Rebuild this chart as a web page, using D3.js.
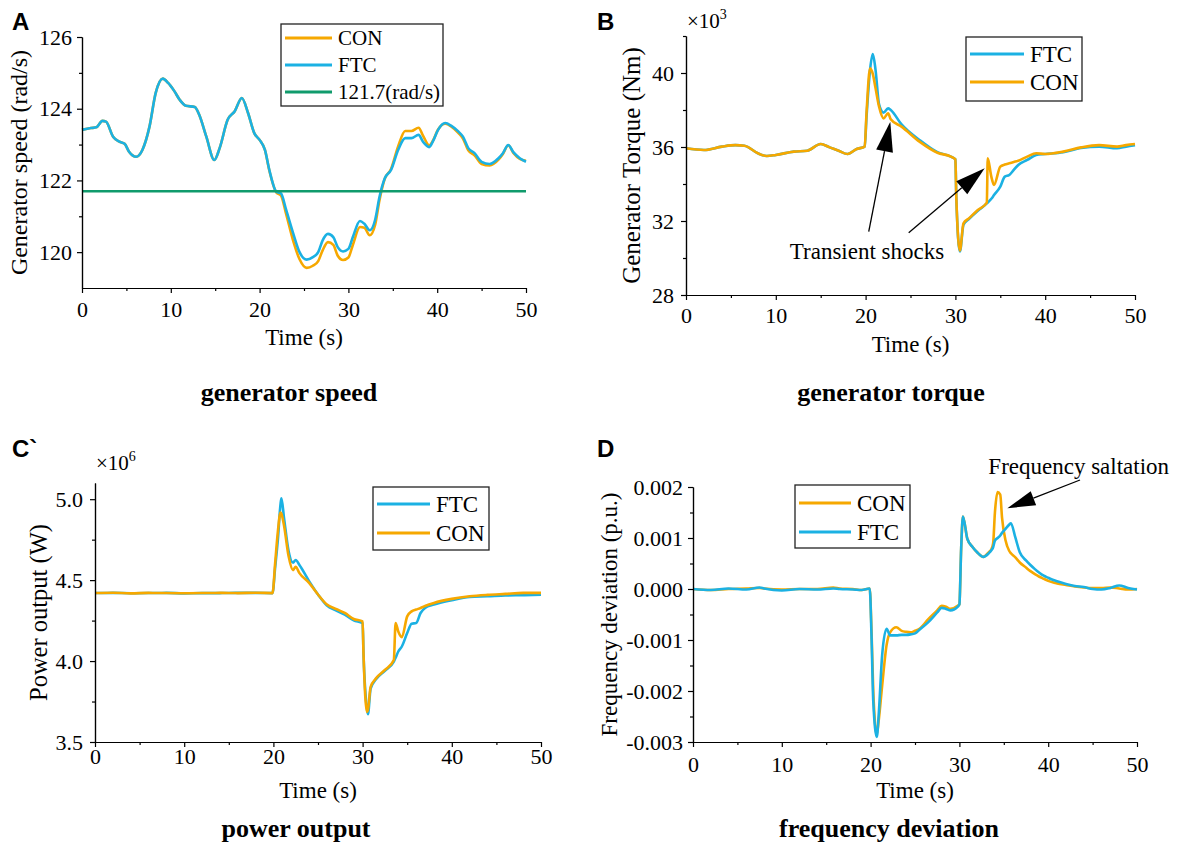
<!DOCTYPE html>
<html>
<head>
<meta charset="utf-8">
<script src="https://cdn.jsdelivr.net/npm/d3@7"></script>
<style>
  body { margin: 0; background: #fff; }
  .axis path, .axis line { stroke: #000; stroke-width: 1.2px; }
</style>
</head>
<body>
<div class="svg-container"></div>
<script>
//Data
const timeMajor = [0, 10, 20, 30, 40, 50];
const timeMinor = [5, 15, 25, 35, 45];

//A - generator speed (rad/s)
const timeSpeed = [0,1,1.6,2.3,2.7,3.5,4.2,4.8,5.3,6.1, 6.8,7.6,8.3,9.1,9.7,10.4,11,11.7,12.7,13.2,
  14,14.9,15.5,16.4,17.2,18,18.7,19.4,20,20.6, 21.1,21.9,22.4,23,23.8,24.5,25.3,26,26.6,27.1,
  27.7,28.3,28.8,29.4,30,30.5,31.3,31.8,32.4,33, 33.5,34.1,34.8,35.6,36.4,37.1,37.9,38.4,39.1,39.5,
  40.1,40.9,41.6,42.4,42.9,43.5,44.2,45,45.9,46.9, 47.4,48,48.6,49.3,50];
const speedCON = [123.41,123.46,123.48,123.66,123.64,123.22,123.08,123.02,122.80,122.66,
  122.85,123.50,124.44,124.84,124.72,124.49,124.25,124.08,124.05,123.83,
  123.22,122.57,122.90,123.69,123.93,124.30,123.88,123.32,123.13,122.85,
  122.27,121.66,121.58,121.05,120.30,119.80,119.56,119.62,119.75,120.05,
  120.28,120.20,119.90,119.78,119.85,120.20,120.70,120.68,120.47,120.75,
  121.45,122.05,122.32,122.95,123.38,123.38,123.47,123.25,122.98,123.10,
  123.42,123.58,123.50,123.32,123.17,122.84,122.70,122.46,122.42,122.58,
  122.74,122.98,122.76,122.60,122.55];
const speedFTC = [123.41,123.46,123.48,123.66,123.64,123.22,123.08,123.02,122.80,122.66,
  122.85,123.50,124.44,124.84,124.72,124.49,124.25,124.08,124.05,123.83,
  123.22,122.57,122.90,123.69,123.93,124.30,123.88,123.32,123.13,122.85,
  122.29,121.68,121.64,121.17,120.51,120.00,119.79,119.86,120.00,120.33,
  120.51,120.42,120.14,120.02,120.09,120.42,120.87,120.79,120.61,120.89,
  121.54,122.06,122.29,122.85,123.18,123.18,123.27,123.08,122.93,123.08,
  123.41,123.60,123.52,123.36,123.22,122.90,122.76,122.52,122.46,122.62,
  122.76,122.99,122.78,122.62,122.52];
const speedRef = 121.7;

//B - generator torque (x10^3 Nm)
const timeTorque = [0,2,4,5.5,6.5,8,9,10,12,13.5, 15,16,17,18,19,19.9,20.1,20.5,20.8,21.1,
  21.5,22,22.5,22.8,24,26,28,29.5,30,30.1, 30.5,30.9,31.5,32.5,33.5,33.6,34,34.3,35,35.5,
  36,36.5,37,38,39,40,42,44,46,48, 49,50];
const torqueCON = [35.93,35.84,36.02,36.10,36.07,35.66,35.51,35.57,35.75,35.80,
  36.16,35.98,35.80,35.62,35.89,36.02,37.82,40.25,39.95,39.20,
  38.18,37.55,37.82,37.50,37.10,36.29,35.69,35.48,35.33,33.30,
  30.40,31.87,32.14,32.60,32.99,35.39,34.40,33.95,34.94,35.05,
  35.12,35.19,35.26,35.48,35.66,35.62,35.75,35.98,36.10,36.02,
  36.10,36.16];
const torqueFTC = [35.93,35.84,36.02,36.10,36.07,35.66,35.51,35.57,35.75,35.80,
  36.16,35.98,35.80,35.62,35.89,36.02,37.60,40.20,41.03,40.20,
  38.30,37.86,38.09,38.00,37.22,36.38,35.72,35.48,35.33,33.30,
  30.35,31.80,32.10,32.55,32.95,33.00,33.20,33.40,33.86,34.40,
  34.49,34.76,35.03,35.30,35.57,35.62,35.72,35.95,36.02,35.93,
  36.02,36.10];

//C - power output (x10^6 W)
const timePower = [0,2,4,6,8,10,12,14,16,18, 19.9,20.2,20.5,20.8,20.9,21.2,21.7,22.2,22.5,22.9,
  24,25,26,27,28,29,30,30.1,30.5,30.6, 30.9,31.5,32.5,33.5,33.7,34,34.4,35,35.5,36,
  36.5,37,38,40,42,44,46,48,50];
const powerCON = [4.420,4.422,4.418,4.421,4.420,4.419,4.420,4.421,4.420,4.422,
  4.420,4.608,4.800,4.918,4.910,4.835,4.649,4.562,4.583,4.545,
  4.483,4.411,4.349,4.322,4.297,4.260,4.245,4.049,3.686,3.700,
  3.840,3.893,3.945,4.007,4.235,4.183,4.148,4.276,4.307,4.318,
  4.328,4.340,4.359,4.384,4.400,4.409,4.415,4.421,4.421];
const powerFTC = [4.420,4.421,4.419,4.420,4.421,4.418,4.420,4.420,4.421,4.421,
  4.420,4.580,4.750,4.970,5.005,4.880,4.680,4.608,4.624,4.595,
  4.494,4.411,4.343,4.314,4.287,4.252,4.235,4.049,3.700,3.672,
  3.830,3.887,3.940,3.997,4.020,4.059,4.090,4.173,4.231,4.235,
  4.297,4.328,4.349,4.376,4.396,4.400,4.405,4.407,4.410];

//D - frequency deviation (p.u.)
const timeFreq = [0,2,4,6,7.5,8,10,12,14,15.8, 16.5,18,19,19.9,20.1,20.3,20.7,20.9,21.3,21.8,
  22.2,22.9,23.5,24,24.5,25,25.5,26.5,27.5,28, 28.5,29,29.8,30,30.2,30.4,30.9,31.5,32,32.7,
  33.3,33.6,33.8,34,34.3,34.6,34.8,35.2,35.6,35.8, 36.3,36.8,37.5,38,38.5,39,39.5,40,40.5,41,
  42,43,44,45,46,47,48,49,50];
const freqCON = [0,-0.00002,0,0.00001,0.00002,0.00001,-0.00001,0,0,0.00003,
  0.00001,0,-0.00002,0.00001,-0.0008,-0.0020,-0.00285,-0.0026,-0.0019,-0.0011,
  -0.00085,-0.00075,-0.00082,-0.00084,-0.00085,-0.00082,-0.00078,-0.00059,-0.00042,-0.00033,
  -0.00035,-0.00039,-0.00033,-0.0003,0.0008,0.00142,0.00098,0.00082,0.00072,0.00063,
  0.00072,0.00078,0.0009,0.0015,0.0019,0.00185,0.0014,0.00095,0.00075,0.0007,
  0.00062,0.00052,0.00042,0.00035,0.00029,0.00024,0.0002,0.00016,0.00013,0.00011,
  0.00008,0.00005,0.00003,0.00002,0.00002,0.00003,0.00001,-0.00001,0];
const freqFTC = [0,-0.00002,0.00001,-0.00001,0.00003,0.00001,-0.00003,0,-0.00001,0.00001,
  0,-0.00001,-0.00002,0.00001,-0.0009,-0.0022,-0.0029,-0.0025,-0.0013,-0.00078,
  -0.00091,-0.00091,-0.0009,-0.0009,-0.00089,-0.00087,-0.0008,-0.00065,-0.00046,-0.00037,
  -0.00039,-0.00042,-0.00035,-0.0003,0.0008,0.00142,0.00098,0.00082,0.00072,0.00063,
  0.0007,0.00076,0.00082,0.00095,0.001,0.00105,0.0011,0.00118,0.00126,0.00129,
  0.00101,0.00072,0.00056,0.00047,0.00039,0.00032,0.00026,0.00022,0.00018,0.00015,
  0.0001,0.00006,0.00004,0,-0.00001,0.00002,0.00007,0.00002,-0.00001];

//colors + fonts
const ORANGE = '#f6a800';
const BLUE = '#1bb1e3';
const GREEN = '#109b6c';
const SERIF = '"Liberation Serif", "Times New Roman", serif';
const SANS = '"Liberation Sans", Arial, sans-serif';

//svg canvas
const svg = d3.select('.svg-container')
  .append('svg')
  .attr('width', 1180)
  .attr('height', 845);

//small helper for serif text
function addText(g, x, y, size, str) {
  return g.append('text')
    .attr('x', x).attr('y', y)
    .style('font-family', SERIF)
    .style('font-size', size + 'px')
    .attr('fill', '#000')
    .text(str);
}

//arrow with filled triangular head
function drawArrow(g, x1, y1, x2, y2, headLen, headW) {
  const dx = x2 - x1, dy = y2 - y1;
  const len = Math.sqrt(dx * dx + dy * dy);
  const ux = dx / len, uy = dy / len;
  const bx = x2 - ux * headLen, by = y2 - uy * headLen;
  g.append('line')
    .attr('x1', x1).attr('y1', y1).attr('x2', bx).attr('y2', by)
    .attr('stroke', '#000').attr('stroke-width', 1.3);
  g.append('polygon')
    .attr('points', [[x2, y2], [bx - uy * headW / 2, by + ux * headW / 2], [bx + uy * headW / 2, by - ux * headW / 2]].map(p => p.join(',')).join(' '))
    .attr('fill', '#000');
}

//one panel
function drawPanel(p) {
  const x = d3.scaleLinear().domain([0, 50]).range([p.x0, p.x1]);
  const y = d3.scaleLinear().domain(p.yDomain).range([p.yBot, p.yTop]);
  const g = svg.append('g');

  //series
  const line = d3.line()
    .x(d => x(d[0]))
    .y(d => y(d[1]))
    .curve(d3.curveMonotoneX);

  p.series.forEach(s => {
    g.append('path')
      .datum(d3.zip(s.t, s.v))
      .attr('d', line)
      .attr('fill', 'none')
      .attr('stroke', s.color)
      .attr('stroke-width', 2.6)
      .attr('stroke-linejoin', 'round');
  });

  //minor ticks
  g.append('g').attr('class', 'axis')
    .attr('transform', `translate(0, ${p.yBot})`)
    .call(d3.axisBottom(x).tickValues(timeMinor).tickSize(3).tickSizeOuter(0).tickFormat(''));
  g.append('g').attr('class', 'axis')
    .attr('transform', `translate(${p.x0}, 0)`)
    .call(d3.axisLeft(y).tickValues(p.yMinor).tickSize(3).tickSizeOuter(0).tickFormat(''));

  //major axes
  const xAxis = g.append('g').attr('class', 'axis')
    .attr('transform', `translate(0, ${p.yBot})`)
    .call(d3.axisBottom(x).tickValues(timeMajor).tickSize(5).tickSizeOuter(0).tickPadding(p.xPad));
  const yAxis = g.append('g').attr('class', 'axis')
    .attr('transform', `translate(${p.x0}, 0)`)
    .call(d3.axisLeft(y).tickValues(p.yMajor).tickSize(5).tickSizeOuter(0).tickPadding(p.yPad).tickFormat(p.fmt));
  [xAxis, yAxis].forEach(a => a.selectAll('text')
    .style('font-family', SERIF)
    .style('font-size', '22px')
    .attr('fill', '#000'));

  //axis labels
  addText(g, (p.x0 + p.x1) / 2, p.xlabelY, 23, 'Time (s)')
    .attr('text-anchor', 'middle');
  addText(g, 0, 0, p.ylabelSize, p.ylabel)
    .attr('transform', `translate(${p.ylabelX}, ${(p.yTop + p.yBot) / 2}) rotate(-90)`)
    .attr('text-anchor', 'middle');

  //title + letter
  addText(g, p.titleX, p.titleY, 26, p.title)
    .attr('text-anchor', 'middle')
    .style('font-weight', 'bold');
  g.append('text')
    .attr('x', p.letterX).attr('y', p.letterY)
    .style('font-family', SANS).style('font-size', '24px').style('font-weight', 'bold')
    .text(p.letter);

  //multiplier
  if (p.mult) {
    const m = addText(g, p.mult.x, p.mult.y, 21, null);
    m.append('tspan').text('\u00d710');
    m.append('tspan').attr('dy', -9).style('font-size', '14px').text(p.mult.exp);
  }

  //legend
  const L = p.legend;
  const leg = g.append('g').attr('transform', `translate(${L.x}, ${L.y})`);
  leg.append('rect')
    .attr('width', L.w).attr('height', L.h)
    .attr('fill', '#fff').attr('stroke', '#222').attr('stroke-width', 1.3);
  L.items.forEach((it, i) => {
    const ry = L.row0 + i * L.gap;
    leg.append('line')
      .attr('x1', 4).attr('x2', 4 + L.lineLen).attr('y1', ry).attr('y2', ry)
      .attr('stroke', it.color).attr('stroke-width', 2.8);
    addText(leg, L.lineLen + 10, ry, L.font, it.label)
      .attr('dy', '0.35em');
  });

  return { g, x, y };
}

//A
const pA = drawPanel({
  letter: 'A', letterX: 12, letterY: 30,
  x0: 82, x1: 526, yTop: 37, yBot: 288,
  yDomain: [119, 126], yMajor: [120, 122, 124, 126], yMinor: [121, 123, 125],
  fmt: d => d, xPad: 8, yPad: 5,
  ylabel: 'Generator speed (rad/s)', ylabelX: 27, ylabelSize: 24, xlabelY: 345,
  title: 'generator speed', titleX: 289, titleY: 401,
  series: [
    { t: timeSpeed, v: speedCON, color: ORANGE },
    { t: timeSpeed, v: speedFTC, color: BLUE },
    { t: [0, 50], v: [speedRef, speedRef], color: GREEN }
  ],
  legend: { x: 281, y: 24, w: 162, h: 82, row0: 14, gap: 27, lineLen: 47, font: 21,
    items: [{ label: 'CON', color: ORANGE }, { label: 'FTC', color: BLUE }, { label: '121.7(rad/s)', color: GREEN }] }
});

//B
const pB = drawPanel({
  letter: 'B', letterX: 597, letterY: 30,
  x0: 686, x1: 1135, yTop: 36, yBot: 295,
  yDomain: [28, 42], yMajor: [28, 32, 36, 40], yMinor: [30, 34, 38, 42],
  fmt: d => d, xPad: 7, yPad: 7,
  ylabel: 'Generator Torque (Nm)', ylabelX: 640, ylabelSize: 25, xlabelY: 352,
  title: 'generator torque', titleX: 891, titleY: 401,
  mult: { x: 687, y: 28, exp: '3' },
  series: [
    { t: timeTorque, v: torqueFTC, color: BLUE },
    { t: timeTorque, v: torqueCON, color: ORANGE }
  ],
  legend: { x: 966, y: 37, w: 116, h: 64, row0: 17, gap: 28, lineLen: 54, font: 23,
    items: [{ label: 'FTC', color: BLUE }, { label: 'CON', color: ORANGE }] }
});
addText(pB.g, pB.x(20.16), pB.y(29.95), 23, 'Transient shocks')
  .attr('text-anchor', 'middle');
drawArrow(pB.g, pB.x(20.35), pB.y(31.42), pB.x(22.75), pB.y(37.37), 30, 17);
drawArrow(pB.g, pB.x(24.8), pB.y(31.37), pB.x(33.26), pB.y(34.85), 30, 17);

//C
const pC = drawPanel({
  letter: 'C`', letterX: 12, letterY: 457,
  x0: 95, x1: 541, yTop: 483, yBot: 742,
  yDomain: [3.5, 5.1], yMajor: [3.5, 4.0, 4.5, 5.0], yMinor: [3.75, 4.25, 4.75],
  fmt: d => d.toFixed(1), xPad: 1, yPad: 7,
  ylabel: 'Power output (W)', ylabelX: 47, ylabelSize: 24.5, xlabelY: 798,
  title: 'power output', titleX: 296, titleY: 837,
  mult: { x: 96, y: 470, exp: '6' },
  series: [
    { t: timePower, v: powerFTC, color: BLUE },
    { t: timePower, v: powerCON, color: ORANGE }
  ],
  legend: { x: 373, y: 487, w: 116, h: 63, row0: 17, gap: 29, lineLen: 53, font: 23,
    items: [{ label: 'FTC', color: BLUE }, { label: 'CON', color: ORANGE }] }
});

//D
const pD = drawPanel({
  letter: 'D', letterX: 597, letterY: 457,
  x0: 693, x1: 1137, yTop: 487, yBot: 742,
  yDomain: [-0.003, 0.002], yMajor: [-0.003, -0.002, -0.001, 0, 0.001, 0.002],
  yMinor: [-0.0025, -0.0015, -0.0005, 0.0005, 0.0015],
  fmt: d => d.toFixed(3), xPad: 9, yPad: 5,
  ylabel: 'Frequency deviation (p.u.)', ylabelX: 617, ylabelSize: 23, xlabelY: 798,
  title: 'frequency deviation', titleX: 889, titleY: 837,
  series: [
    { t: timeFreq, v: freqCON, color: ORANGE },
    { t: timeFreq, v: freqFTC, color: BLUE }
  ],
  legend: { x: 795, y: 485, w: 115, h: 63, row0: 18, gap: 29, lineLen: 52, font: 23,
    items: [{ label: 'CON', color: ORANGE }, { label: 'FTC', color: BLUE }] }
});
addText(pD.g, pD.x(33.26), pD.y(0.002255), 23, 'Frequency saltation');
drawArrow(pD.g, pD.x(43.58), pD.y(0.002137), pD.x(35.4), pD.y(0.001582), 28, 15);
</script>
</body>
</html>
